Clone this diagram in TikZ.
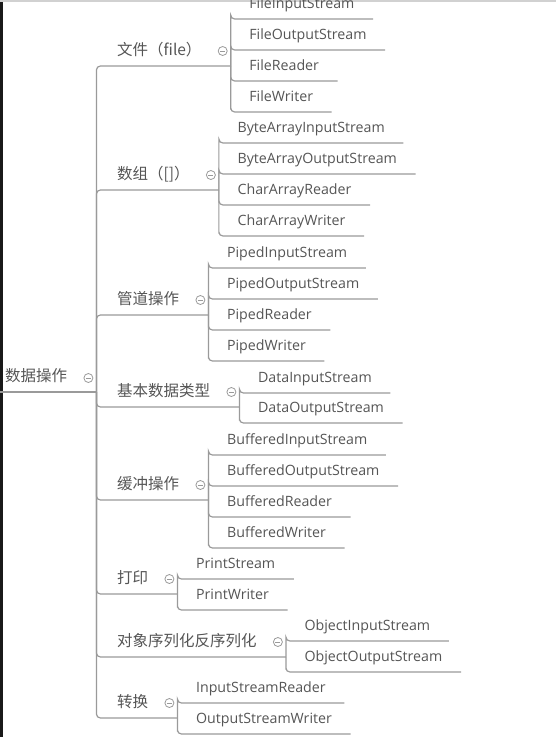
\documentclass[tikz,border=0pt]{standalone}
\usepackage{fontspec}
\setmainfont{Open Sans}
\newfontfamily\cjk{Noto Sans CJK SC}
\usetikzlibrary{calc}
\definecolor{linegray}{HTML}{9A9A9A}
\definecolor{textgray}{HTML}{555555}
\tikzset{
  conn/.style={draw=linegray, line width=1.2pt, rounded corners=4pt},
  leaf/.style={anchor=south west, inner xsep=18.5pt, inner ysep=10pt, text depth=0pt, text=textgray, font=\fontsize{14.2}{16}\selectfont},
  topic/.style={anchor=south west, inner xsep=21pt, inner ysep=10pt, text depth=0pt, text=textgray, font=\cjk\fontsize{15.5}{18}\selectfont},
  fold/.style={circle, draw=linegray, line width=0.8pt, fill=white, minimum size=9pt, inner sep=0pt,
    path picture={\draw[linegray, line width=0.8pt] ($(path picture bounding box.center)+(-2.5pt,0pt)$) -- ++(5pt,0pt);}}
}
\begin{document}
\begin{tikzpicture}[x=1pt, y=-1pt]
\useasboundingbox (0,0) rectangle (556,737);
\fill[black!90] (0,2) rectangle (3,737);
\fill[black!18] (0,0) rectangle (556,1.5);

\node[topic, inner xsep=5pt] (root) at (0,392) {数据操作};
\node[fold] (froot) at ($(root.south east)+(16,-14)$) {};
\coordinate (jroot) at ($(root.south east)+(24,0)$);
\draw[conn] (root.south west) -- (jroot);

\foreach \n/\y/\t in {file/66/文件（file）, array/190/数组（[]）, pipe/315/管道操作, data/407/基本数据类型,
  buffer/500/缓冲操作, print/594/打印, object/657/对象序列化反序列化, convert/718/转换}{
  \node[topic] (\n) at (96,\y) {\t};
  \node[fold] (f\n) at ($(\n.south east)+(0,-15)$) {};
  \coordinate (j\n) at ($(\n.south east)+(8,0)$);
  \draw[conn] (jroot) |- (j\n);}

\foreach \n/\y/\t in {fis/19/FileInputStream, fos/50/FileOutputStream, fr/81/FileReader, fw/112/FileWriter}{
  \node[leaf] (\n) at (jfile |- 0,\y) {\t};
  \draw[conn] (jfile) |- (\n.south west) -- (\n.south east);}
\foreach \n/\y/\t in {bais/143/ByteArrayInputStream, baos/174/ByteArrayOutputStream, car/205/CharArrayReader, caw/236/CharArrayWriter}{
  \node[leaf] (\n) at (jarray |- 0,\y) {\t};
  \draw[conn] (jarray) |- (\n.south west) -- (\n.south east);}
\foreach \n/\y/\t in {pis/268/PipedInputStream, pos/299/PipedOutputStream, pr/330/PipedReader, pw/361/PipedWriter}{
  \node[leaf] (\n) at (jpipe |- 0,\y) {\t};
  \draw[conn] (jpipe) |- (\n.south west) -- (\n.south east);}
\foreach \n/\y/\t in {dis/393/DataInputStream, dos/423/DataOutputStream}{
  \node[leaf] (\n) at (jdata |- 0,\y) {\t};
  \draw[conn] (jdata) |- (\n.south west) -- (\n.south east);}
\foreach \n/\y/\t in {bis/455/BufferedInputStream, bos/486/BufferedOutputStream, br/517/BufferedReader, bw/548/BufferedWriter}{
  \node[leaf] (\n) at (jbuffer |- 0,\y) {\t};
  \draw[conn] (jbuffer) |- (\n.south west) -- (\n.south east);}
\foreach \n/\y/\t in {prs/579/PrintStream, prw/610/PrintWriter}{
  \node[leaf] (\n) at (jprint |- 0,\y) {\t};
  \draw[conn] (jprint) |- (\n.south west) -- (\n.south east);}
\foreach \n/\y/\t in {ois/641/ObjectInputStream, oos/672/ObjectOutputStream}{
  \node[leaf] (\n) at (jobject |- 0,\y) {\t};
  \draw[conn] (jobject) |- (\n.south west) -- (\n.south east);}
\foreach \n/\y/\t in {isr/703/InputStreamReader, osw/734/OutputStreamWriter}{
  \node[leaf] (\n) at (jconvert |- 0,\y) {\t};
  \draw[conn] (jconvert) |- (\n.south west) -- (\n.south east);}

\end{tikzpicture}
\end{document}
